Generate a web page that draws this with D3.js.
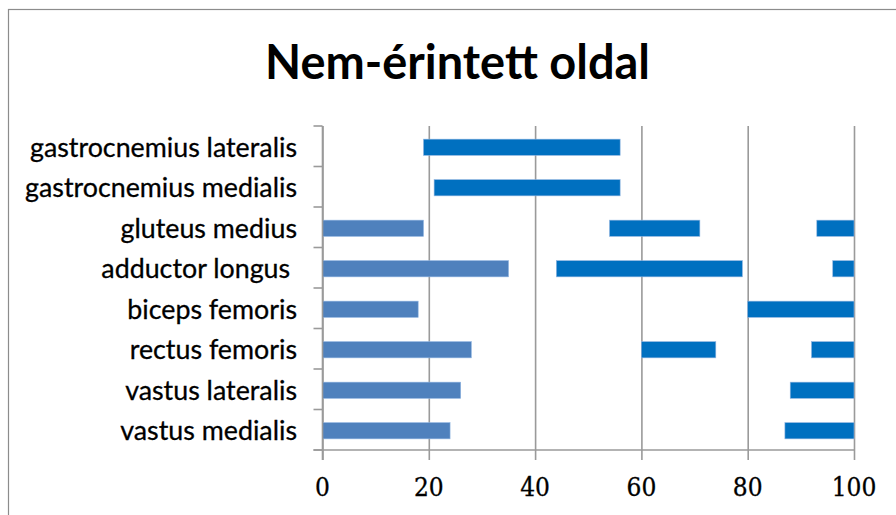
<!DOCTYPE html>
<html>
<head>
<meta charset="utf-8">
<script src="https://cdn.jsdelivr.net/npm/d3@7"></script>
<style>
html,body{margin:0;padding:0;background:#fff;}
svg{display:block;}
</style>
</head>
<body>
<svg id="chart" width="896" height="515"></svg>
<script>
// ---- data ----
const title = "Nem-érintett oldal";
const categories = [
  "gastrocnemius lateralis",
  "gastrocnemius medialis",
  "gluteus medius",
  "adductor longus ",
  "biceps femoris",
  "rectus femoris",
  "vastus lateralis",
  "vastus medialis"
];
// light-blue bars from 0
const baseEnd = [null, null, 19, 35, 18, 28, 26, 24];
// dark-blue segments [start, end]
const seg1Start = [19, 21, 54, 44, 80, 60, 88, 87];
const seg1End   = [56, 56, 71, 79, 100, 74, 100, 100];
const seg2Start = [null, null, 93, 96, null, 92, null, null];
const seg2End   = [null, null, 100, 100, null, 100, null, null];
const xTicks = [0, 20, 40, 60, 80, 100];

// ---- layout ----
const svg = d3.select("#chart");
const plot = {left: 322.5, right: 854, top: 126, bottom: 450};
const lightBlue = "#4F81BD", darkBlue = "#0070C0", gridCol = "#9a9a9a";

// frame
svg.append("rect").attr("x", 8.5).attr("y", 9.5).attr("width", 920).attr("height", 540)
  .attr("fill", "#fff").attr("stroke", "#8c8c8c").attr("stroke-width", 1.2);

const x = d3.scaleLinear().domain([0, 100]).range([plot.left, plot.right]);
const y = d3.scaleBand().domain(categories).range([plot.top, plot.bottom]).paddingInner(0).paddingOuter(0);
const barH = y.bandwidth() * 0.4;
const barY = c => y(c) + (y.bandwidth() - barH) / 2 + 1;

// gridlines (vertical)
const xAxis = d3.axisBottom(x).tickValues(xTicks).tickSize(plot.bottom - plot.top + 10).tickFormat("");
const gGrid = svg.append("g").attr("transform", `translate(0,${plot.top})`).call(xAxis);
gGrid.select(".domain").remove();
gGrid.selectAll(".tick line").attr("stroke", gridCol).attr("stroke-width", 1.6);

// y axis ticks at band boundaries
const boundaries = d3.range(categories.length + 1).map(i => plot.top + i * y.step());
svg.selectAll(".ytick").data(boundaries).join("line")
  .attr("x1", plot.left - 9).attr("x2", plot.left)
  .attr("y1", d => d).attr("y2", d => d)
  .attr("stroke", gridCol).attr("stroke-width", 1.6);
// x axis line
svg.append("line").attr("x1", plot.left - 9).attr("x2", plot.right)
  .attr("y1", plot.bottom).attr("y2", plot.bottom).attr("stroke", gridCol).attr("stroke-width", 1.6);

// bars
const rows = categories.map((c, i) => ({c, i}));
const barStroke = "#8fb4e0";
svg.append("g").selectAll("rect").data(rows.filter(r => baseEnd[r.i] != null)).join("rect")
  .attr("x", x(0)).attr("y", r => barY(r.c))
  .attr("width", r => x(baseEnd[r.i]) - x(0)).attr("height", barH)
  .attr("fill", lightBlue).attr("stroke", barStroke).attr("stroke-width", 0.6);
svg.append("g").selectAll("rect").data(rows.filter(r => seg1Start[r.i] != null)).join("rect")
  .attr("x", r => x(seg1Start[r.i])).attr("y", r => barY(r.c))
  .attr("width", r => x(seg1End[r.i]) - x(seg1Start[r.i])).attr("height", barH)
  .attr("fill", darkBlue).attr("stroke", barStroke).attr("stroke-width", 0.6);
svg.append("g").selectAll("rect").data(rows.filter(r => seg2Start[r.i] != null)).join("rect")
  .attr("x", r => x(seg2Start[r.i])).attr("y", r => barY(r.c))
  .attr("width", r => x(seg2End[r.i]) - x(seg2Start[r.i])).attr("height", barH)
  .attr("fill", darkBlue).attr("stroke", barStroke).attr("stroke-width", 0.6);

// y axis line over bar starts
svg.append("line").attr("x1", plot.left).attr("x2", plot.left)
  .attr("y1", plot.top).attr("y2", plot.bottom + 10).attr("stroke", gridCol).attr("stroke-width", 1.6);

// category labels
const labelFont = "Lato, 'Open Sans', sans-serif";
const labels = svg.append("g").selectAll("text").data(categories).join("text")
  .attr("x", 297).attr("y", c => y(c) + y.bandwidth() / 2 + 1)
  .attr("dy", "0.36em").attr("text-anchor", "end")
  .style("white-space", "pre").attr("xml:space", "preserve")
  .attr("font-family", labelFont).attr("font-size", 22).attr("fill", "#000")
  .attr("stroke", "#000").attr("stroke-width", 0.3)
  .text(c => c);
{
  const node = labels.filter((d, i) => i === 0).node();
  const w = node.getComputedTextLength();
  labels.attr("font-size", (22 * 267 / w).toFixed(2));
}

// x tick labels
svg.append("g").selectAll("text").data(xTicks).join("text")
  .attr("x", d => x(d)).attr("y", 495.5).attr("text-anchor", "middle")
  .attr("font-family", "'DejaVu Serif Condensed', 'DejaVu Serif', serif")
  .style("font-stretch", "condensed").attr("font-size", 26)
  .attr("fill", "#000").attr("stroke", "#000").attr("stroke-width", 0.3)
  .text(d => d);

// title
const t = svg.append("text").attr("x", 457.5).attr("y", 78.5).attr("text-anchor", "middle")
  .attr("font-family", labelFont).attr("font-weight", "bold").attr("font-size", 46)
  .attr("fill", "#000").text(title);
{
  const w = t.node().getComputedTextLength();
  t.attr("font-size", (46 * 385 / w).toFixed(2));
}
</script>
</body>
</html>
